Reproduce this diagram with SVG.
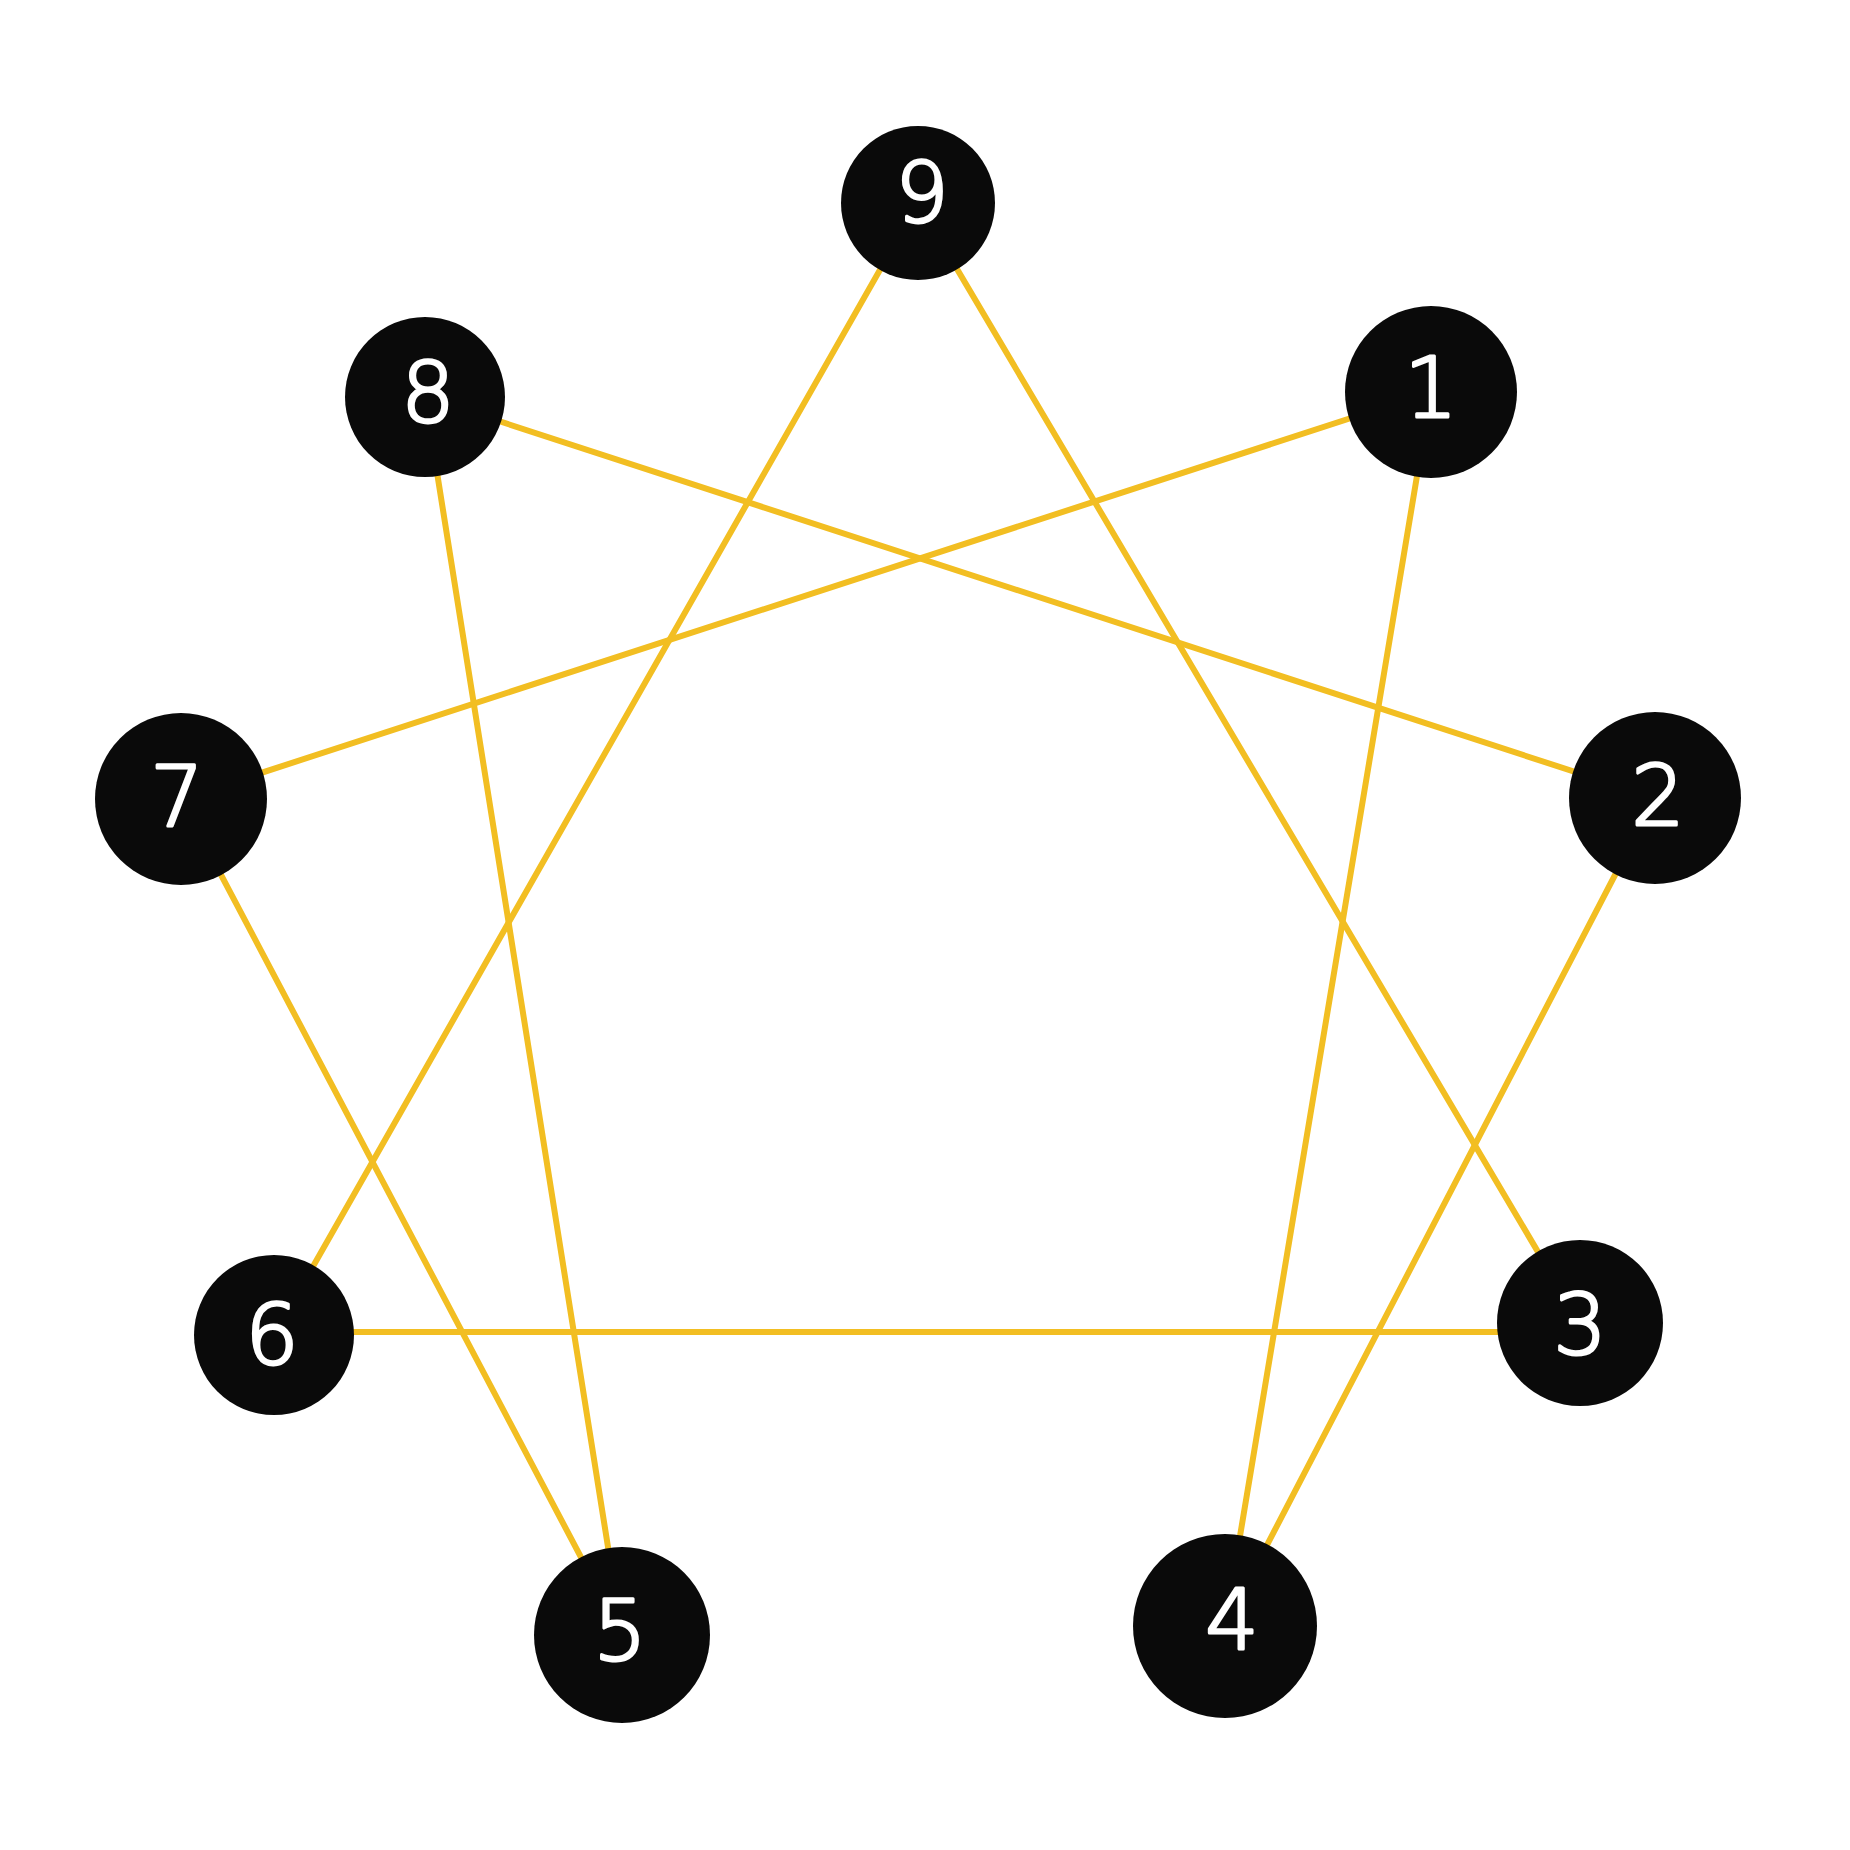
<svg xmlns="http://www.w3.org/2000/svg" width="1850" height="1850" viewBox="0 0 1850 1850">
<style>
.c{stroke:#F2BE22;stroke-width:6;stroke-linecap:round}
.n{fill:#0a0a0a}
.t{fill:#fff;stroke:#fff;stroke-width:3;stroke-linejoin:round;font-family:"DejaVu Sans",sans-serif;font-size:84px;text-anchor:middle;dominant-baseline:central;font-weight:300}
</style>
<rect width="1850" height="1850" fill="#fff"/>
<g id="connectors">
<line class="c" x1="918" y1="203" x2="274" y2="1335"/>
<line class="c" x1="918" y1="203" x2="1580" y2="1323"/>
<line class="c" x1="425" y1="397" x2="1655" y2="798"/>
<line class="c" x1="1431" y1="392" x2="181" y2="799"/>
<line class="c" x1="425" y1="397" x2="622" y2="1635"/>
<line class="c" x1="1431" y1="392" x2="1225" y2="1626"/>
<line class="c" x1="181" y1="799" x2="622" y2="1635"/>
<line class="c" x1="1655" y1="798" x2="1225" y2="1626"/>
<line class="c" x1="274" y1="1332" x2="1580" y2="1332"/>
</g>
<g id="n9"><circle class="n" cx="918" cy="203" r="77"/><text class="t" x="922" y="193">9</text></g>
<g id="n1"><circle class="n" cx="1431" cy="392" r="86"/><text class="t" x="1431" y="388">1</text></g>
<g id="n8"><circle class="n" cx="425" cy="397" r="80"/><text class="t" x="428" y="393">8</text></g>
<g id="n7"><circle class="n" cx="181" cy="799" r="86"/><text class="t" x="177" y="797">7</text></g>
<g id="n2"><circle class="n" cx="1655" cy="798" r="86"/><text class="t" x="1658" y="796">2</text></g>
<g id="n6"><circle class="n" cx="274" cy="1335" r="80"/><text class="t" x="272" y="1335">6</text></g>
<g id="n3"><circle class="n" cx="1580" cy="1323" r="83"/><text class="t" x="1580" y="1325">3</text></g>
<g id="n5"><circle class="n" cx="622" cy="1635" r="88"/><text class="t" x="620" y="1631">5</text></g>
<g id="n4"><circle class="n" cx="1225" cy="1626" r="92"/><text class="t" x="1232" y="1620">4</text></g>
</svg>
